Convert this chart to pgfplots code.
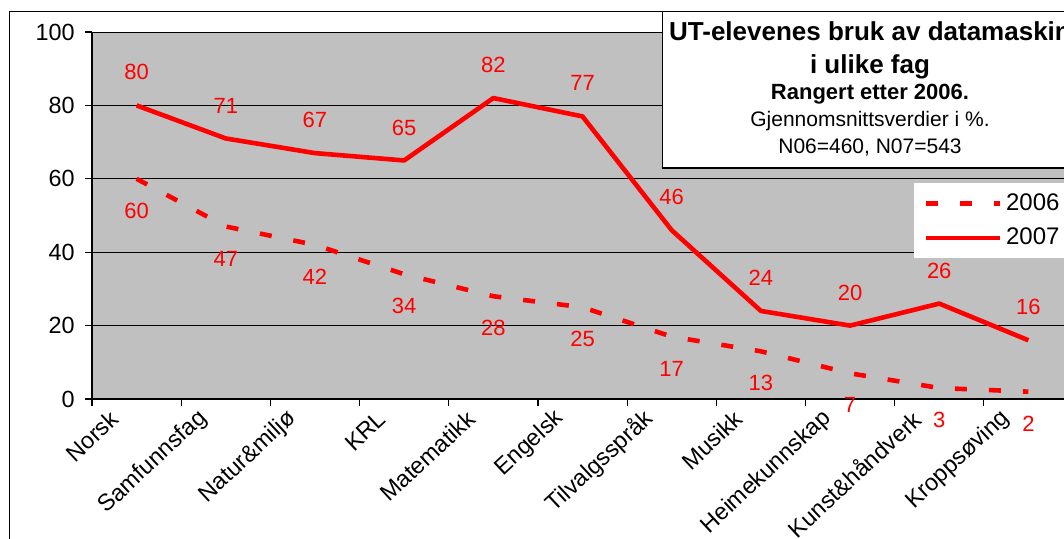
\documentclass[border=0pt]{standalone}
\usepackage{fontspec}
\setmainfont{Liberation Sans}
\usepackage{pgfplots}
\pgfplotsset{compat=1.18}
\definecolor{plotgray}{RGB}{192,192,192}
\definecolor{xlred}{RGB}{255,0,0}
\begin{document}
\begin{tikzpicture}[x=0.5pt,y=0.5pt]
\path[use as bounding box] (0,0) rectangle (1064,538);
\clip (0,0) rectangle (1064,538);
\fill[white] (0,0) rectangle (1064,538);
\draw[black, line width=0.7pt] (9.5,-20) -- (9.5,526.3) -- (1100,526.3);
\begin{axis}[
  at={(46pt,69.5pt)}, anchor=south west,
  scale only axis, width=490.5pt, height=183.5pt,
  xmin=-0.5, xmax=10.5, ymin=0, ymax=100,
  clip=false,
  axis background/.style={fill=plotgray},
  axis x line*=bottom, axis y line*=left,
  axis line style={black, line width=0.7pt},
  xtick={0,...,10},
  xticklabels={Norsk,Samfunnsfag,Natur\&miljø,KRL,Matematikk,Engelsk,Tilvalgsspråk,Musikk,Heimekunnskap,Kunst\&håndverk,Kroppsøving},
  major x tick style={draw=none},
  minor xtick={-0.5,0.5,...,10.5},
  ytick={0,20,...,100},
  tick align=outside,
  major tick length=3.5pt, minor tick length=3.5pt,
  tick style={black, line width=0.6pt},
  ymajorgrids, grid style={black, line width=0.5pt},
  /pgf/number format/assume math mode=true,
  yticklabel style={font=\fontsize{11.7}{13}\selectfont, anchor=east, inner sep=0pt, xshift=-5pt},
  xticklabel style={font=\fontsize{11.7}{14}\selectfont, xshift=-11pt, yshift=-4.5pt, rotate=43, anchor=east, inner sep=0pt},
  legend style={at={(0.838,0.5886)}, anchor=north west, draw=none, fill=white,
    font=\fontsize{12}{13}\selectfont, inner xsep=4.5pt, inner ysep=3pt, row sep=3.5pt},
  legend cell align=left,
  legend image code/.code={\draw[#1] (0pt,0pt) -- (37pt,0pt);},
]
\addplot[xlred, line width=2.3pt, dash pattern=on 6pt off 11pt,
  nodes near coords,
  every node near coord/.append style={font=\fontsize{11}{12}\selectfont, text=xlred, anchor=center, yshift=-16pt, inner sep=0pt}]
  coordinates {(0,60) (1,47) (2,42) (3,34) (4,28) (5,25) (6,17) (7,13) (8,7) (9,3) (10,2)};
\addlegendentry{2006}
\addplot[xlred, line width=2.3pt, line join=round,
  nodes near coords,
  every node near coord/.append style={font=\fontsize{11}{12}\selectfont, text=xlred, anchor=center, yshift=16.5pt, inner sep=0pt}]
  coordinates {(0,80) (1,71) (2,67) (3,65) (4,82) (5,77) (6,46) (7,24) (8,20) (9,26) (10,16)};
\addlegendentry{2007}
\end{axis}
\draw[black, line width=0.6pt, fill=white] (662.5,526.3) rectangle (1078,370);
\node[anchor=base, inner sep=0pt, font=\bfseries\fontsize{13}{15}\selectfont] at (870,498) {UT-elevenes bruk av datamaskin};
\node[anchor=base, inner sep=0pt, font=\bfseries\fontsize{13}{15}\selectfont] at (870,464.7) {i ulike fag};
\node[anchor=base, inner sep=0pt, font=\bfseries\fontsize{11}{13}\selectfont] at (870,438.7) {Rangert etter 2006.};
\node[anchor=base, inner sep=0pt, font=\fontsize{10.5}{12}\selectfont] at (870,411.3) {Gjennomsnittsverdier i \%.};
\node[anchor=base, inner sep=0pt, font=\fontsize{10.5}{12}\selectfont] at (870,384.7) {N06=460, N07=543};
\end{tikzpicture}
\end{document}
